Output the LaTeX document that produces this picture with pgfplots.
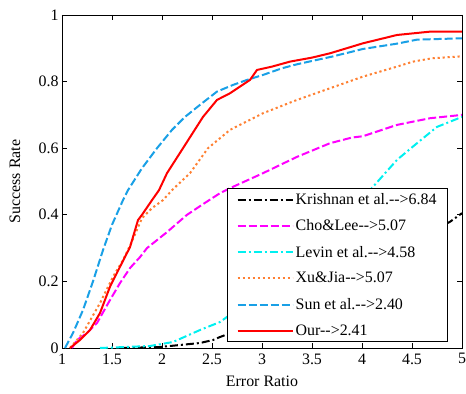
\documentclass[border=0pt]{standalone}
\usepackage{fontspec}
\setmainfont{Liberation Serif}
\usepackage{pgfplots}
\pgfplotsset{compat=1.18}
\definecolor{sunblue}{RGB}{25,160,230}
\definecolor{xuorange}{RGB}{255,128,50}
\definecolor{chomag}{RGB}{255,0,255}
\definecolor{levcyan}{RGB}{0,240,240}
\begin{document}
\begin{tikzpicture}
\begin{axis}[
  name=ax,
  scale only axis, width=400bp, height=333bp,
  xmin=1, xmax=5, ymin=0, ymax=1,
  xtick={1,1.5,2,2.5,3,3.5,4,4.5,5},
  ytick={0,0.2,0.4,0.6,0.8,1},
  yticklabels={0,0.2,0.4,0.6,0.8,1},
  xticklabels={1,1.5,2,2.5,3,3.5,4,4.5,5},
  tick align=inside, major tick length=5bp,
  tick style={black, line width=0.7bp},
  axis line style={line width=0.8bp},
  tick label style={font=\fontsize{16}{19}\selectfont},
  xticklabel style={yshift=-2bp},
  label style={font=\fontsize{16}{19}\selectfont},
  xlabel={Error Ratio}, ylabel={Success Rate},
  xlabel style={at={(axis description cs:0.5,-0.099)}, anchor=center},
  ylabel style={at={(axis description cs:-0.1175,0.5)}, anchor=center},
  legend cell align=left,
  legend image code/.code={\draw[#1] (0bp,0bp) -- (55bp,0bp);},
  legend style={at={(rel axis cs:0.965,0.018)}, anchor=south east,
    font=\fontsize{16}{19}\selectfont, draw=black, line width=0.8bp,
    fill=white, row sep=9.8bp, inner xsep=9bp, inner ysep=3bp},
  every axis plot/.append style={line width=2bp},
]
% Krishnan et al.
\addplot[black, dash pattern=on 8bp off 3bp on 2bp off 3bp] coordinates {
(1.6,0) (1.98,0.003) (2.38,0.015) (2.51,0.024) (2.58,0.033) (3.0,0.08) (3.5,0.16) (4.0,0.24) (4.5,0.32) (4.88,0.379) (5,0.405)};
\addlegendentry{Krishnan et al.-{}->6.84}
% Cho&Lee
\addplot[chomag, dash pattern=on 8bp off 3bp] coordinates {
(1.1,0) (1.15,0.024) (1.25,0.045) (1.35,0.075) (1.48,0.144) (1.58,0.195) (1.68,0.24) (1.78,0.273) (1.85,0.3) (2.05,0.348) (2.25,0.4) (2.4,0.43) (2.58,0.465) (2.68,0.48) (3.01,0.525) (3.35,0.574) (3.68,0.615) (3.9,0.632) (4.01,0.636) (4.35,0.67) (4.68,0.69) (5,0.70)};
\addlegendentry{Cho\&Lee-{}->5.07}
% Levin et al.
\addplot[levcyan, dash pattern=on 8bp off 3bp on 2bp off 3bp] coordinates {
(1.38,0) (1.88,0.006) (2.11,0.018) (2.38,0.054) (2.58,0.078) (3.0,0.17) (3.5,0.30) (3.8,0.39) (4.08,0.474) (4.35,0.565) (4.55,0.615) (4.75,0.664) (5,0.694)};
\addlegendentry{Levin et al.-{}->4.58}
% Xu&Jia
\addplot[xuorange, dash pattern=on 2.2bp off 2.8bp] coordinates {
(1.08,0) (1.21,0.045) (1.38,0.135) (1.51,0.214) (1.61,0.264) (1.7,0.32) (1.8,0.39) (1.9,0.42) (2.01,0.444) (2.10,0.474) (2.28,0.525) (2.46,0.6) (2.68,0.655) (3.01,0.705) (3.35,0.745) (3.68,0.78) (4.01,0.815) (4.35,0.845) (4.51,0.86) (4.7,0.87) (5,0.876)};
\addlegendentry{Xu\&Jia-{}->5.07}
% Sun et al.
\addplot[sunblue, dash pattern=on 8bp off 3bp] coordinates {
(1.03,0) (1.11,0.045) (1.21,0.114) (1.31,0.2) (1.41,0.294) (1.5,0.37) (1.61,0.444) (1.66,0.474) (1.8,0.54) (1.95,0.6) (2.1,0.655) (2.23,0.694) (2.4,0.735) (2.55,0.77) (2.71,0.79) (2.85,0.805) (3.01,0.82) (3.2,0.84) (3.35,0.852) (3.5,0.862) (3.7,0.875) (4.01,0.898) (4.35,0.914) (4.55,0.926) (5,0.93)};
\addlegendentry{Sun et al.-{}->2.40}
% Our
\addplot[red] coordinates {
(1.08,0) (1.18,0.024) (1.28,0.054) (1.38,0.105) (1.48,0.184) (1.58,0.244) (1.68,0.303) (1.76,0.384) (1.8,0.4) (1.9,0.444) (1.97,0.474) (2.05,0.525) (2.21,0.6) (2.41,0.694) (2.55,0.745) (2.68,0.765) (2.88,0.805) (2.95,0.835) (3.1,0.845) (3.28,0.86) (3.5,0.872) (3.68,0.885) (4.01,0.915) (4.35,0.94) (4.68,0.95) (5,0.95)};
\addlegendentry{Our-{}->2.41}
\end{axis}
\pgfresetboundingbox
\path[use as bounding box] (ax.south west) ++(-62bp,-46bp) rectangle ([shift={(4bp,15bp)}]ax.north east);
\end{tikzpicture}
\end{document}
